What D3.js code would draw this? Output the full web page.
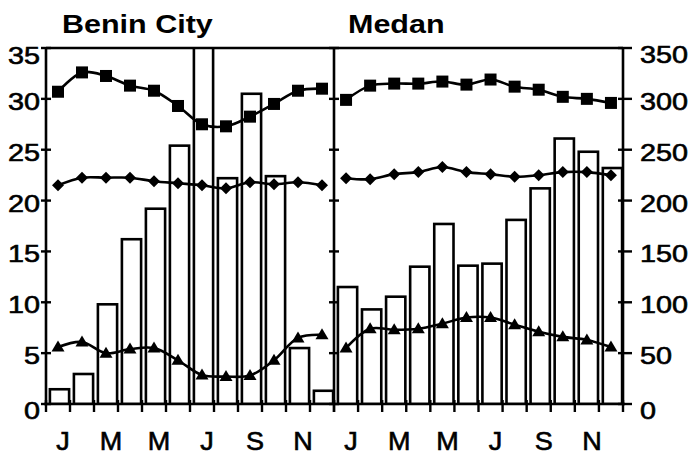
<!DOCTYPE html>
<html><head><meta charset="utf-8">
<script src="https://cdn.jsdelivr.net/npm/d3@7"></script>
<style>html,body{margin:0;padding:0;background:#fff;}</style>
</head><body>
<svg id="c" width="690" height="457"></svg>
<script>
const months = ["J","F","M","A","M","J","J","A","S","O","N","D"];
const shownMonths = [0,2,4,6,8,10];
const leftTicks = [0,5,10,15,20,25,30,35];
const rightTicks = [0,50,100,150,200,250,300,350];
const panelTitles = ["Benin City","Medan"];

const beninRain = [14.5,29.5,98,162,192,254,380,222,305,224,55,13];
const beninMax  = [30.7,32.6,32.25,31.3,30.8,29.3,27.5,27.3,28.25,29.5,30.8,31.0];
const beninMin  = [21.5,22.25,22.25,22.25,21.9,21.7,21.5,21.2,21.8,21.6,21.8,21.5];
const beninTri  = [5.6,6.1,5.0,5.4,5.5,4.3,2.85,2.7,2.8,4.3,6.5,6.8];

const medanRain = [115,93,105.5,135,177,136,138,181,212,261,248,232];
const medanMax  = [29.9,31.3,31.5,31.5,31.7,31.4,31.9,31.2,30.9,30.2,30.0,29.6];
const medanMin  = [22.2,22.1,22.6,22.8,23.3,22.8,22.6,22.35,22.5,22.8,22.8,22.5];
const medanTri  = [5.5,7.4,7.3,7.4,7.9,8.5,8.5,7.8,7.1,6.6,6.3,5.6];

const panels = [
  {title: panelTitles[0], rain: beninRain, max: beninMax, min: beninMin, tri: beninTri},
  {title: panelTitles[1], rain: medanRain, max: medanMax, min: medanMin, tri: medanTri}
];

const svg = d3.select("#c");
const X0 = 46, XM = 334, X1 = 623, YT = 48, YB = 404;
const yL = d3.scaleLinear().domain([0,35]).range([YB,YT]);
const yR = d3.scaleLinear().domain([0,350]).range([YB,YT]);
const FONT = "'Liberation Sans', Arial, sans-serif";

function txt(x,y,s,size,anchor,weight,sx){
  svg.append("text").attr("transform",`translate(${x},${y}) scale(${sx},1)`)
    .attr("text-anchor",anchor).attr("font-family",FONT).attr("font-size",size)
    .attr("font-weight",weight).attr("fill","#000")
    .attr("stroke", weight==="bold"?"none":"#000").attr("stroke-width", weight==="bold"?0:0.6)
    .text(s);
}

svg.append("defs").append("clipPath").attr("id","clip")
  .append("rect").attr("x",X0).attr("y",YT).attr("width",X1-X0).attr("height",YB-YT);

panels.forEach((p,pi)=>{
  const xa = pi===0?X0:XM, xb = pi===0?XM:X1;
  const x = d3.scaleBand().domain(d3.range(12)).range([xa,xb]).paddingInner(0.2).paddingOuter(0.1);
  const xc = i => x(i)+x.bandwidth()/2;
  const g = svg.append("g").attr("clip-path","url(#clip)");
  g.selectAll("rect.bar").data(p.rain).join("rect")
    .attr("x",(d,i)=>x(i)+1.5).attr("width",x.bandwidth())
    .attr("y",d=>yR(d)).attr("height",d=>YB-yR(d))
    .attr("fill","#fff").attr("stroke","#000").attr("stroke-width",2.6);
  const line = d3.line().x((d,i)=>xc(i)).y(d=>yL(d)).curve(d3.curveCatmullRom.alpha(0.5));
  [p.max,p.min,p.tri].forEach(s=>{
    g.append("path").attr("d",line(s)).attr("fill","none").attr("stroke","#000").attr("stroke-width",2.6);
  });
  g.selectAll("rect.sq").data(p.max).join("rect").attr("class","sq")
    .attr("x",(d,i)=>xc(i)-6).attr("y",d=>yL(d)-6).attr("width",12).attr("height",12).attr("fill","#000");
  g.selectAll("path.dm").data(p.min).join("path").attr("class","dm")
    .attr("d",(d,i)=>{const cx=xc(i),cy=yL(d);return `M${cx},${cy-6}L${cx+6},${cy}L${cx},${cy+6}L${cx-6},${cy}Z`;})
    .attr("fill","#000");
  g.selectAll("path.tr").data(p.tri).join("path").attr("class","tr")
    .attr("d",(d,i)=>{const cx=xc(i),cy=yL(d);return `M${cx},${cy-6.5}L${cx+6.5},${cy+4.5}L${cx-6.5},${cy+4.5}Z`;})
    .attr("fill","#000");
  const bounds = d3.range(13).map(i => xa + (xb-xa)*i/12);
  svg.selectAll(null).data(bounds).join("line")
    .attr("x1",d=>d).attr("x2",d=>d).attr("y1",YB-4).attr("y2",YB+8)
    .attr("stroke","#000").attr("stroke-width",2.4);
  shownMonths.forEach(i=>{
    txt(xa + (xb-xa)*(i+0.5)/12 + 5, 450, months[i], 25, "middle", "normal", 1.08);
  });
  txt(pi===0?62:348, 33, p.title, 25, "start", "bold", 1.22);
});

const frame = svg.append("g").attr("stroke","#000").attr("stroke-width",2.6).attr("fill","none");
frame.append("line").attr("x1",X0).attr("x2",X1).attr("y1",YT).attr("y2",YT);
frame.append("line").attr("x1",X0-2).attr("x2",X1+2).attr("y1",YB).attr("y2",YB);
[X0,XM,X1].forEach(xx=>frame.append("line").attr("x1",xx).attr("x2",xx).attr("y1",YT).attr("y2",YB));

leftTicks.forEach(t=>{
  [X0,XM].forEach(xx=>svg.append("line").attr("x1",xx-5).attr("x2",xx+5).attr("y1",yL(t)).attr("y2",yL(t))
    .attr("stroke","#000").attr("stroke-width",2.4));
  txt(40, yL(t)+11 + (t===35?5:0) + (t===0?4:0), String(t), 24, "end", "normal", 1.2);
});
rightTicks.forEach(t=>{
  svg.append("line").attr("x1",X1-5).attr("x2",X1+9).attr("y1",yR(t)).attr("y2",yR(t))
    .attr("stroke","#000").attr("stroke-width",2.4);
  txt(640, yR(t)+11 + (t===350?4:0) + (t===0?4:0), String(t), 24, "start", "normal", 1.2);
});
</script>
</body></html>
